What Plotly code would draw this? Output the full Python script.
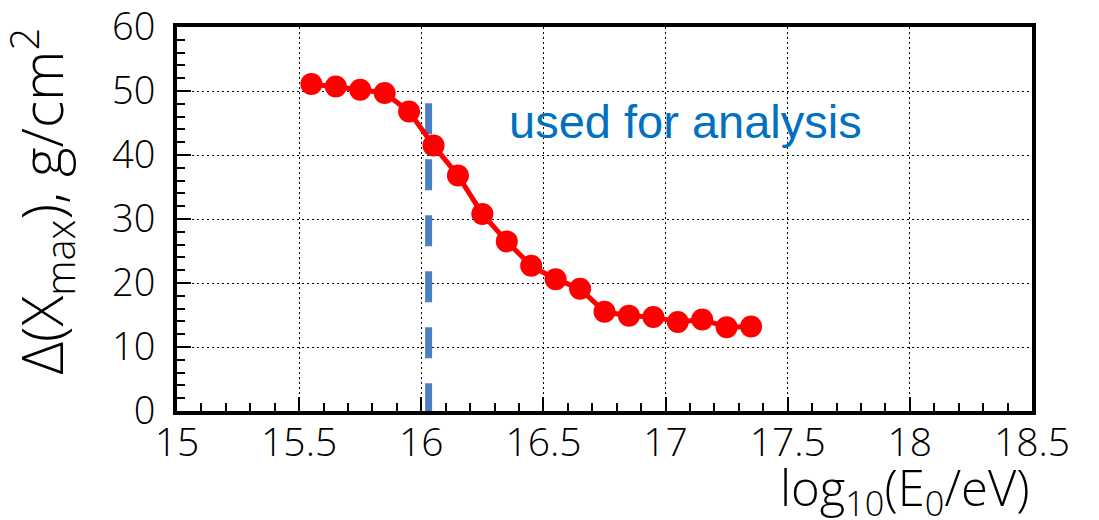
import plotly.graph_objects as go

# Energy bins, log10(E0/eV)
log_energy = [15.55, 15.65, 15.75, 15.85, 15.95, 16.05, 16.15, 16.25, 16.35, 16.45,
              16.55, 16.65, 16.75, 16.85, 16.95, 17.05, 17.15, 17.25, 17.35]
# Xmax resolution, g/cm^2
delta_xmax = [51.1, 50.7, 50.2, 49.7, 46.8, 41.5, 36.8, 30.8, 26.5, 22.7,
              20.6, 19.1, 15.5, 14.9, 14.7, 13.9, 14.3, 13.1, 13.2]

# Analysis threshold marker
threshold_x = [16.03, 16.03]
threshold_y = [48.1, 0]

x_ticks = [15, 15.5, 16, 16.5, 17, 17.5, 18, 18.5]
x_tick_text = ["15", "15.5", "16", "16.5", "17", "17.5", "18", "18.5"]
y_ticks = [0, 10, 20, 30, 40, 50, 60]
y_tick_text = ["0", "10", "20", "30", "40", "50", "60"]

THIN = "Open Sans, Liberation Sans, sans-serif"
LABEL = "Liberation Sans, Arial, sans-serif"

fig = go.Figure()

fig.add_trace(go.Scatter(
    x=threshold_x, y=threshold_y, mode="lines",
    line=dict(color="#4a7fc1", width=7, dash="31px,25px"),
    hoverinfo="skip", showlegend=False,
))

fig.add_trace(go.Scatter(
    x=log_energy, y=delta_xmax, mode="lines+markers",
    line=dict(color="#ff0000", width=5),
    marker=dict(color="#ff0000", size=22),
    showlegend=False,
))

axis_common = dict(
    showline=True, linecolor="black", linewidth=4, mirror=True,
    ticks="inside", tickcolor="black", tickwidth=1.5, ticklen=14,
    showgrid=True, gridcolor="black", gridwidth=1, griddash="2px,3px",
    zeroline=False, automargin=False, ticklabeloverflow="allow",
)

fig.update_xaxes(
    range=[15, 18.5], tickvals=x_ticks, ticktext=x_tick_text,
    tickfont=dict(family=THIN, size=39, color="black", weight=300),
    minor=dict(dtick=0.1, ticks="inside", ticklen=8, tickcolor="black",
               tickwidth=1.5, showgrid=False),
    ticklabelstandoff=-6,
    **axis_common,
)
fig.update_yaxes(
    range=[0, 60], tickvals=y_ticks, ticktext=y_tick_text,
    tickfont=dict(family=THIN, size=38, color="black", weight=300),
    minor=dict(dtick=2, ticks="inside", ticklen=8, tickcolor="black",
               tickwidth=1.5, showgrid=False),
    ticklabelstandoff=10,
    **axis_common,
)

fig.add_annotation(
    x=17.08, y=45.3, xref="x", yref="y",
    text="used for analysis", showarrow=False,
    font=dict(family=LABEL, size=47, color="#0070c0"),
    xanchor="center", yanchor="middle",
)

fig.add_annotation(
    x=1.0, y=-0.205, xref="paper", yref="paper",
    text="log<sub>10</sub>(E<sub>0</sub>/eV)", showarrow=False,
    font=dict(family=THIN, size=49, color="black", weight=300),
    xanchor="right", yanchor="middle",
)

fig.add_annotation(
    x=-0.158, y=0.548, xref="paper", yref="paper",
    text="Δ(X<sub>max</sub>), g/cm<sup>2</sup>", showarrow=False,
    textangle=-90,
    font=dict(family=THIN, size=57, color="black", weight=300),
    xanchor="center", yanchor="middle",
)

fig.update_layout(
    width=1099, height=520,
    margin=dict(l=177, r=67, t=27, b=109),
    paper_bgcolor="white", plot_bgcolor="white",
    showlegend=False,
)

fig.write_html("out.html")
